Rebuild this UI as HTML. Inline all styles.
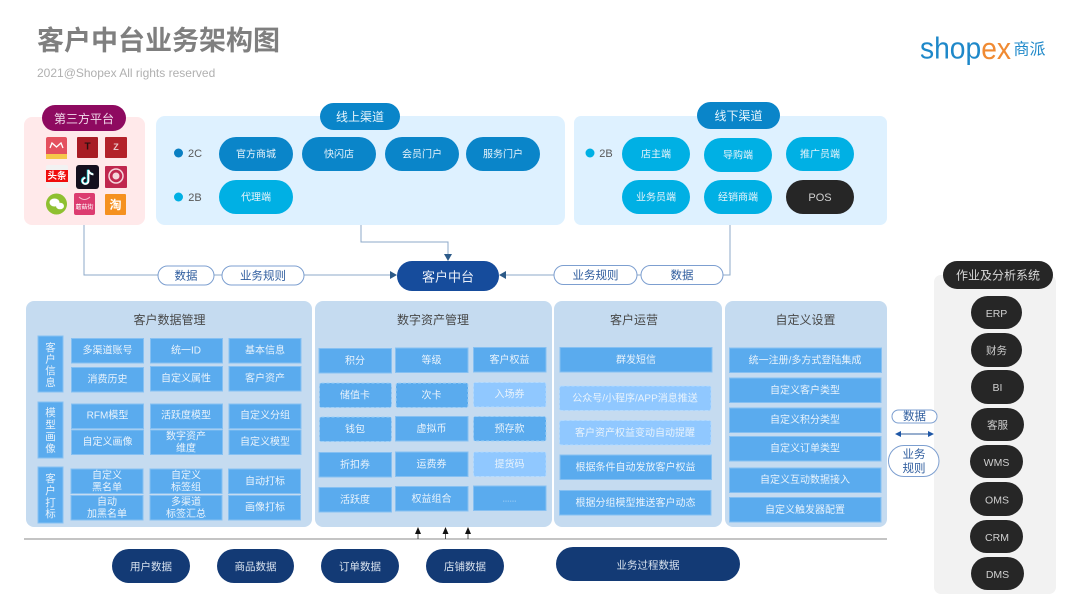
<!DOCTYPE html>
<html><head><meta charset="utf-8">
<style>
html,body{margin:0;padding:0;background:#fff}
svg{display:block;filter:blur(.3px)}
text{font-family:"Liberation Sans","Noto Sans CJK SC",sans-serif;text-anchor:middle;dominant-baseline:central;transform:translateY(.8px)}
.i{font-size:10px;fill:#e9f3fc}
.b{fill:#5aabee;stroke:#86c0f2;stroke-width:1}
.d{fill:#5aabee;stroke:#9fd0f8;stroke-width:1;stroke-dasharray:3 2}
.l{fill:#90c8ff;stroke:#b4dbff;stroke-width:1;stroke-dasharray:3 2}
.h{font-size:12px;fill:#484848}
.p{font-size:10px;fill:#e6f3fb}
.k{font-size:10.5px;fill:#d0d0d0}
.w{font-size:10.5px;fill:#d8e2ee}
.c{fill:none;stroke:#8ca9c8;stroke-width:1}
.t{fill:#fff;stroke:#7d9fd0;stroke-width:1}
.u{font-size:11.5px;fill:#2f5d9e}
.v{font-size:10.5px;fill:#e6f1fb}
</style></head><body>
<svg width="1080" height="608" viewBox="0 0 1080 608" xmlns="http://www.w3.org/2000/svg">
<rect width="1080" height="608" fill="#fff"/>
<text x="37" y="40" style="text-anchor:start;font-size:27px;font-weight:bold;fill:#7f7f7f">客户中台业务架构图</text>
<text x="37" y="72" style="text-anchor:start;font-size:12px;fill:#b0b0b0">2021@Shopex All rights reserved</text>
<text x="920" y="47" textLength="91" lengthAdjust="spacingAndGlyphs" style="text-anchor:start;font-size:31px;fill:#1e88c9">shop<tspan fill="#f08a32">ex</tspan></text>
<text x="1029.500" y="49" style="font-size:16px;fill:#1e88c9">商派</text>

<rect x="24" y="117" width="121" height="108" rx="8" fill="#ffe9ea"/>
<rect x="42" y="105" width="84" height="26" rx="13" fill="#8e0a60"/>
<text x="84" y="118" style="font-size:12px;fill:#f3dcec">第三方平台</text>
<rect x="46" y="137" width="21" height="22" rx="2" fill="#e4505e"/><rect x="46" y="154" width="21" height="5" fill="#f5c84a"/>
<path d="M50 148l2-5 4.500 4 4.500-4 2 5" fill="none" stroke="#fff" stroke-width="1.300"/>
<rect x="77" y="137" width="21" height="21" rx="1" fill="#a81c24"/><text x="87.500" y="146" style="font-size:10px;font-weight:bold;fill:#2a1010">T</text>
<rect x="105" y="137" width="22" height="21" rx="1" fill="#b3222a"/><text x="116" y="146" style="font-size:9px;font-weight:bold;fill:#e8c8c8">Z</text>
<rect x="46" y="165" width="22" height="23" rx="2" fill="#f2f2f2"/><rect x="46" y="170" width="22" height="12" fill="#f00d0d"/><text x="57" y="175.500" style="font-size:9.500px;font-weight:bold;fill:#fff">头条</text>
<rect x="76" y="165" width="23" height="24" rx="3" fill="#15101e"/>
<path d="M88.500 170v11a3 3 0 1 1-3-3M88.500 170q1 4 5 4.500" fill="none" stroke="#25e0e6" stroke-width="2.200" transform="translate(-.6 -.4)"/>
<path d="M88.500 170v11a3 3 0 1 1-3-3M88.500 170q1 4 5 4.500" fill="none" stroke="#fff" stroke-width="1.800"/>
<rect x="105" y="166" width="22" height="22" rx="1" fill="#c0274f"/><circle cx="116" cy="176" r="7" fill="none" stroke="#f5d5dc" stroke-width="1.500"/><circle cx="116" cy="176" r="3.500" fill="#f5d5dc"/>
<circle cx="56.500" cy="204" r="10.500" fill="#8fc031"/><ellipse cx="54.500" cy="202.500" rx="5" ry="4" fill="#fff"/><ellipse cx="60" cy="206" rx="4" ry="3.300" fill="#fff"/>
<rect x="74" y="193" width="21" height="22" rx="2" fill="#dc3c70"/><path d="M79 197q5.500 5 11 0" fill="none" stroke="#f7c0d0"/><text x="84.500" y="207" style="font-size:6px;fill:#fff">蘑菇街</text>
<rect x="105" y="194" width="21" height="21" rx="1" fill="#f59120"/><text x="115.500" y="204" style="font-size:12px;font-weight:bold;fill:#fff">淘</text>

<rect x="156" y="116" width="409" height="109" rx="9" fill="#def1ff"/>
<rect x="320" y="103" width="80" height="27" rx="13.500" fill="#0a85c9"/>
<text x="360" y="116" style="font-size:12px;fill:#e6f4fc">线上渠道</text>
<circle cx="178.500" cy="153" r="4.500" fill="#0a7fc2"/><text x="195" y="153" style="font-size:11px;fill:#595959">2C</text>
<circle cx="178.500" cy="197" r="4.500" fill="#00b0e4"/><text x="195" y="197" style="font-size:11px;fill:#595959">2B</text>
<g fill="#0a85c9"><rect x="219" y="137" width="74" height="34" rx="17"/><rect x="302" y="137" width="74" height="34" rx="17"/><rect x="385" y="137" width="74" height="34" rx="17"/><rect x="466" y="137" width="74" height="34" rx="17"/></g>
<rect x="219" y="180" width="74" height="34" rx="17" fill="#00b0e4"/>
<text class="p" x="256" y="154">官方商城</text><text class="p" x="339" y="154">快闪店</text><text class="p" x="422" y="154">会员门户</text><text class="p" x="503" y="154">服务门户</text><text class="p" x="256" y="197">代理端</text>

<rect x="574" y="116" width="313" height="109" rx="7" fill="#def1ff"/>
<rect x="697" y="102" width="83" height="27" rx="13.500" fill="#0a85c9"/>
<text x="738.500" y="115" style="font-size:12px;fill:#e6f4fc">线下渠道</text>
<circle cx="590" cy="153" r="4.500" fill="#00b0e4"/><text x="606" y="153" style="font-size:11px;fill:#595959">2B</text>
<g fill="#00b0e4"><rect x="622" y="137" width="68" height="34" rx="17"/><rect x="704" y="138" width="68" height="34" rx="17"/><rect x="786" y="137" width="68" height="34" rx="17"/><rect x="622" y="180" width="68" height="34" rx="17"/><rect x="704" y="180" width="68" height="34" rx="17"/></g>
<rect x="786" y="180" width="68" height="34" rx="17" fill="#262626"/>
<text class="p" x="656" y="154">店主端</text><text class="p" x="738" y="155">导购端</text><text class="p" x="820" y="154">推广员端</text><text class="p" x="656" y="197">业务员端</text><text class="p" x="738" y="197">经销商端</text><text x="820" y="197" style="font-size:11px;fill:#d0d0d0">POS</text>

<path class="c" d="M84 225V275H392"/><path class="c" d="M361 225V242H448V256"/><path class="c" d="M730 225V275H505"/>
<path d="M397 275l-7-4v8z" fill="#2c5a88"/><path d="M448 261l-4-7h8z" fill="#2c5a88"/><path d="M499 275l7-4v8z" fill="#2c5a88"/>
<rect class="t" x="158" y="266" width="56" height="19" rx="9.500"/><text class="u" x="186" y="275.500">数据</text>
<rect class="t" x="222" y="266" width="82" height="19" rx="9.500"/><text class="u" x="263" y="275.500">业务规则</text>
<rect class="t" x="554" y="265.500" width="83" height="19" rx="9.500"/><text class="u" x="595.500" y="275">业务规则</text>
<rect class="t" x="641" y="265.500" width="82" height="19" rx="9.500"/><text class="u" x="682" y="275">数据</text>
<rect x="397" y="261" width="102" height="30" rx="15" fill="#164c9c"/><text x="448" y="276" style="font-size:13px;fill:#e8eef8">客户中台</text>

<g fill="#c5dbf0"><rect x="26" y="301" width="286" height="226" rx="8"/><rect x="315" y="301" width="237" height="226" rx="8"/><rect x="554" y="301" width="168" height="226" rx="8"/><rect x="725" y="301" width="162" height="226" rx="8"/></g>
<text class="h" x="169.500" y="319">客户数据管理</text><text class="h" x="433" y="319">数字资产管理</text><text class="h" x="634" y="319">客户运营</text><text class="h" x="805.500" y="319">自定义设置</text>

<rect class="b" x="38" y="336" width="25" height="56"/><text class="v" x="50.500" y="347">客</text><text class="v" x="50.500" y="358.500">户</text><text class="v" x="50.500" y="370">信</text><text class="v" x="50.500" y="382">息</text>
<rect class="b" x="38" y="402" width="25" height="56"/><text class="v" x="50.500" y="412">模</text><text class="v" x="50.500" y="424">型</text><text class="v" x="50.500" y="436">画</text><text class="v" x="50.500" y="448">像</text>
<rect class="b" x="38" y="467" width="25" height="56"/><text class="v" x="50.500" y="478">客</text><text class="v" x="50.500" y="490">户</text><text class="v" x="50.500" y="502">打</text><text class="v" x="50.500" y="513">标</text>

<g class="b"><rect class="b" x="71.500" y="338.500" width="72" height="24.500"/><rect class="b" x="150.500" y="338.500" width="72" height="24.500"/><rect class="b" x="229" y="338.500" width="72" height="24.500"/>
<rect class="b" x="71.500" y="367.500" width="72" height="24.500"/><rect class="b" x="150.500" y="366.500" width="72" height="24.500"/><rect class="b" x="229" y="366.500" width="72" height="24.500"/>
<rect class="b" x="71.500" y="404" width="72" height="24.500"/><rect class="b" x="150.500" y="404" width="72" height="24.500"/><rect class="b" x="229" y="404" width="72" height="24.500"/>
<rect class="b" x="71.500" y="430" width="72" height="24.500"/><rect class="b" x="150.500" y="430" width="72" height="24.500"/><rect class="b" x="229" y="430" width="72" height="24.500"/>
<rect class="b" x="71" y="469" width="72" height="24.500"/><rect class="b" x="150" y="469" width="72" height="24.500"/><rect class="b" x="228.500" y="469" width="72" height="24.500"/>
<rect class="b" x="71" y="495.500" width="72" height="24.500"/><rect class="b" x="150" y="495.500" width="72" height="24.500"/><rect class="b" x="228.500" y="495.500" width="72" height="24.500"/></g>
<text class="i" x="107.500" y="350">多渠道账号</text><text class="i" x="186" y="350">统一ID</text><text class="i" x="265" y="350">基本信息</text>
<text class="i" x="107.500" y="379">消费历史</text><text class="i" x="186" y="378">自定义属性</text><text class="i" x="265" y="378">客户资产</text>
<text class="i" x="107.500" y="415">RFM模型</text><text class="i" x="186" y="415">活跃度模型</text><text class="i" x="265" y="415">自定义分组</text>
<text class="i" x="107.500" y="441.500">自定义画像</text><text class="i" x="186" y="436">数字资产</text><text class="i" x="186" y="448">维度</text><text class="i" x="265" y="441.500">自定义模型</text>
<text class="i" x="107" y="475">自定义</text><text class="i" x="107" y="487">黑名单</text><text class="i" x="186" y="475">自定义</text><text class="i" x="186" y="487">标签组</text><text class="i" x="265" y="481">自动打标</text>
<text class="i" x="107" y="501.500">自动</text><text class="i" x="107" y="513.500">加黑名单</text><text class="i" x="186" y="501.500">多渠道</text><text class="i" x="186" y="513.500">标签汇总</text><text class="i" x="265" y="507">画像打标</text>

<rect class="b" x="319" y="348.500" width="72.500" height="24.500"/><rect class="b" x="395.500" y="348" width="72.500" height="24.500"/><rect class="b" x="473.500" y="347.500" width="72.500" height="24.500"/>
<rect class="d" x="319.500" y="383" width="72" height="24.500" rx="2"/><rect class="d" x="396" y="383" width="72" height="24.500" rx="2"/><rect class="l" x="473.500" y="382.500" width="72.500" height="24.500" rx="2"/>
<rect class="d" x="319.500" y="417" width="72" height="24.500" rx="2"/><rect class="b" x="395.500" y="416.500" width="72.500" height="24.500"/><rect class="d" x="473.500" y="416.500" width="72.500" height="24.500" rx="2"/>
<rect class="b" x="319" y="452.500" width="72.500" height="24.500"/><rect class="b" x="395.500" y="452" width="72.500" height="24.500"/><rect class="l" x="473.500" y="452" width="72.500" height="24.500" rx="2"/>
<rect class="b" x="319" y="487.500" width="72.500" height="24.500"/><rect class="b" x="395.500" y="486.500" width="72.500" height="24.500"/><rect class="b" x="473.500" y="486" width="72.500" height="24.500"/>
<text class="i" x="355" y="360.500">积分</text><text class="i" x="431.500" y="360">等级</text><text class="i" x="509.500" y="359.500">客户权益</text>
<text class="i" x="355" y="395">储值卡</text><text class="i" x="431.500" y="395">次卡</text><text class="i" x="509.500" y="394">入场券</text>
<text class="i" x="355" y="429">钱包</text><text class="i" x="431.500" y="428.500">虚拟币</text><text class="i" x="509.500" y="428.500">预存款</text>
<text class="i" x="355" y="464.500">折扣券</text><text class="i" x="431.500" y="464">运费券</text><text class="i" x="509.500" y="464">提货码</text>
<text class="i" x="355" y="499.500">活跃度</text><text class="i" x="431.500" y="498.500">权益组合</text><text class="i" x="509.500" y="499" style="font-size:7px">……</text>

<rect class="b" x="560" y="347.500" width="152" height="24.500"/><rect class="l" x="559.500" y="386" width="151.500" height="24.500" rx="2"/><rect class="l" x="559.500" y="420.500" width="151.500" height="24.500" rx="2"/><rect class="b" x="560" y="455" width="151.500" height="24.500"/><rect class="b" x="559.500" y="490.500" width="151.500" height="24.500"/>
<text class="i" x="636" y="359.500">群发短信</text><text class="i" x="635" y="398">公众号/小程序/APP消息推送</text><text class="i" x="635" y="432.500">客户资产权益变动自动提醒</text><text class="i" x="635.500" y="467">根据条件自动发放客户权益</text><text class="i" x="635.500" y="502.500">根据分组模型推送客户动态</text>

<rect class="b" x="729.500" y="348" width="152" height="24.500"/><rect class="b" x="729.500" y="378" width="151.500" height="24.500"/><rect class="b" x="729.500" y="408" width="151.500" height="24.500"/><rect class="b" x="729.500" y="436.500" width="151.500" height="24.500"/><rect class="b" x="729.500" y="468" width="151.500" height="24.500"/><rect class="b" x="729.500" y="497.500" width="151.500" height="24.500"/>
<text class="i" x="805" y="360">统一注册/多方式登陆集成</text><text class="i" x="805" y="390">自定义客户类型</text><text class="i" x="805" y="419.500">自定义积分类型</text><text class="i" x="805" y="448">自定义订单类型</text><text class="i" x="805" y="479.500">自定义互动数据接入</text><text class="i" x="805" y="509.500">自定义触发器配置</text>

<rect x="934" y="275" width="122" height="319" rx="7" fill="#f2f2f2"/>
<rect class="t" x="892" y="410" width="45" height="13" rx="6.500"/><text class="u" x="914.500" y="416">数据</text>
<path d="M900 434H930" stroke="#2f5d9e" fill="none"/><path d="M895 434l6-3v6z M934 434l-6-3v6z" fill="#1f57a6"/>
<rect class="t" x="888.500" y="445.500" width="50.500" height="31" rx="15.500"/><text class="u" x="914" y="454">业务</text><text class="u" x="914" y="468">规则</text>

<rect x="943" y="261" width="110" height="28" rx="14" fill="#262626"/><text x="998" y="274.500" style="font-size:12px;fill:#d8d8d8">作业及分析系统</text>
<g fill="#262626"><rect x="971" y="296" width="51" height="33" rx="16.500"/><rect x="971" y="333" width="51" height="34" rx="17"/><rect x="971" y="370" width="53" height="34" rx="17"/><rect x="971" y="408" width="53" height="33" rx="16.500"/><rect x="970" y="445" width="53" height="33" rx="16.500"/><rect x="970" y="482" width="53" height="34" rx="17"/><rect x="970" y="520" width="53" height="33" rx="16.500"/><rect x="971" y="557" width="53" height="33" rx="16.500"/></g>
<text class="k" x="996.500" y="313">ERP</text><text class="k" x="996.500" y="350">财务</text><text class="k" x="997.500" y="387">BI</text><text class="k" x="997.500" y="424.500">客服</text><text class="k" x="996.500" y="462">WMS</text><text class="k" x="997" y="499.500">OMS</text><text class="k" x="997" y="537">CRM</text><text class="k" x="997.500" y="574">DMS</text>

<path d="M24 539H887" stroke="#888" stroke-width="1"/>
<path d="M418 539V534M445.500 539V534M468 539V534" stroke="#333" stroke-width=".8"/>
<path d="M418 527l-3 7h6zM445.500 527l-3 7h6zM468 527l-3 7h6z" fill="#111"/>
<g fill="#133a75"><rect x="112" y="549" width="78" height="34" rx="17"/><rect x="217" y="549" width="77" height="34" rx="17"/><rect x="321" y="549" width="78" height="34" rx="17"/><rect x="426" y="549" width="78" height="34" rx="17"/><rect x="556" y="547" width="184" height="34" rx="17"/></g>
<text class="w" x="151" y="566">用户数据</text><text class="w" x="255.500" y="566">商品数据</text><text class="w" x="360" y="566">订单数据</text><text class="w" x="465" y="566">店铺数据</text><text class="w" x="648" y="564.500">业务过程数据</text>
</svg>
</body></html>
